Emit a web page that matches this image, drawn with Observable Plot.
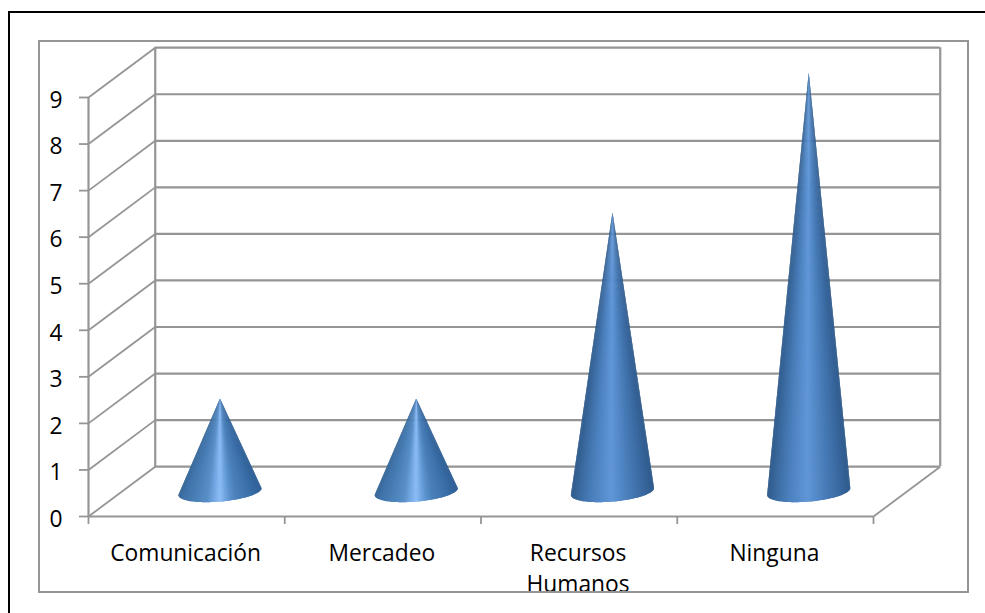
<!DOCTYPE html>
<html>
<head>
<meta charset="utf-8">
<script src="https://cdn.jsdelivr.net/npm/d3@7"></script>
<script src="https://cdn.jsdelivr.net/npm/@observablehq/plot@0.6"></script>
<style>
  html, body { margin: 0; padding: 0; background: #fff; width: 985px; height: 613px; overflow: hidden; }
  /* page rule above and left of the chart */
  #page { position: absolute; left: 8px; top: 11px; width: 977px; height: 602px; border-left: 2px solid #000; border-top: 2px solid #000; box-sizing: border-box; }
  /* chart area border; long category labels are cut off at its lower edge */
  #box { position: absolute; left: 38px; top: 40px; width: 931px; height: 553px; border: 2px solid #959595; box-sizing: border-box; overflow: hidden; background: #fff; }
  #box svg { position: absolute; left: -2px; top: -2px; max-width: none !important; }
</style>
</head>
<body>
<div id="page"></div>
<div id="box"></div>
<script>
const categories = ["Comunicación", "Mercadeo", "Recursos\nHumanos", "Ninguna"];
const values = [2, 2, 6, 9];
const yTicks = [0, 1, 2, 3, 4, 5, 6, 7, 8, 9];
const xTicks = [0, 1, 2, 3, 4];
const gridColor = "#959595";

// Oblique projection: how far the back wall sits from the front plane, in data units.
const depthX = 0.34;
const depthY = 1.07;

// Cone base, in data units.
const baseRadiusX = 0.212;
const baseRadiusY = 0.215;
const baseTilt = 0.075;

// Side-to-side shading of the cones, left edge to right edge.
const shortShade = d3.scaleLinear()
  .domain([0, 0.12, 0.3, 0.38, 0.44, 0.5, 0.56, 0.65, 0.8, 0.95, 1])
  .range(["#2f5f95", "#3a6ea8", "#4a80ba", "#5a92cd", "#72a6e2", "#8cbdf6", "#78ace8", "#5a90c8", "#4a80b8", "#3f72a8", "#376796"]);
const tallShade = d3.scaleLinear()
  .domain([0, 0.12, 0.35, 0.52, 0.75, 0.92, 1])
  .range(["#2f5a8c", "#39689f", "#4d83c0", "#6197d8", "#4a7fbc", "#39689c", "#2f5b8c"]);

// One wedge per slice of the visible base, all meeting at the apex. Each wedge
// reaches over its neighbour so that no gap shows between them.
const slices = 60;
const wedges = values.flatMap((value, c) => {
  const cx = c + 0.5 + depthX / 2;
  const cy = depthY / 2;
  const shade = value > 2 ? tallShade : shortShade;
  const rim = (t) => {
    const a = Math.PI * t;
    return [cx + baseRadiusX * Math.cos(a), cy + baseTilt * Math.cos(a) - baseRadiusY * Math.sin(a)];
  };
  return d3.range(slices).flatMap((i) => {
    const end = Math.min(i + 2, slices);
    const [x1, y1] = rim(i / slices);
    const [xm, ym] = rim((i + 1) / slices);
    const [x2, y2] = rim(end / slices);
    const color = shade(1 - (x1 + xm - 2 * cx + 2 * baseRadiusX) / (4 * baseRadiusX));
    const id = `${c}-${i}`;
    return [
      {id, color, x: cx, y: cy + value},
      {id, color, x: x1, y: y1},
      {id, color, x: xm, y: ym},
      {id, color, x: x2, y: y2}
    ];
  });
});

const chart = Plot.plot({
  width: 931,
  height: 553,
  marginTop: 57, marginRight: 96, marginBottom: 77, marginLeft: 50,
  style: {background: "transparent", fontFamily: "'Open Sans', sans-serif", fontSize: "22.8px", color: "#000"},
  x: {domain: [0, 4], axis: null},
  y: {domain: [0, 9], axis: null},
  color: {type: "identity"},
  marks: [
    // back wall
    Plot.ruleY(yTicks, {x1: depthX, x2: 4 + depthX, y: (d) => d + depthY, stroke: gridColor, strokeWidth: 2.2}),
    Plot.ruleX([depthX, 4 + depthX], {y1: depthY, y2: 9 + depthY, stroke: gridColor, strokeWidth: 2.2}),
    // side wall and floor
    Plot.link(yTicks, {x1: 0, y1: (d) => d, x2: depthX, y2: (d) => d + depthY, stroke: gridColor, strokeWidth: 1.8}),
    Plot.link([4], {x1: (d) => d, y1: 0, x2: (d) => d + depthX, y2: depthY, stroke: gridColor, strokeWidth: 1.8}),
    // front axes
    Plot.ruleY([0], {x1: 0, x2: 4, stroke: gridColor, strokeWidth: 2.2}),
    Plot.ruleX([0], {y1: 0, y2: 9, stroke: gridColor, strokeWidth: 2.2}),
    Plot.axisY(yTicks, {anchor: "left", tickSize: 9, stroke: gridColor, strokeWidth: 1.8, tickFormat: () => "", label: null}),
    Plot.axisY(yTicks, {anchor: "left", tickSize: 0, tickPadding: 26, dy: 3, fill: "#000", stroke: null, label: null, tickFormat: (d) => d}),
    Plot.axisX(xTicks, {anchor: "bottom", tickSize: 8, tickFormat: () => "", stroke: gridColor, strokeWidth: 1.8, label: null}),
    Plot.text(categories, {
      x: (d, i) => i + 0.5,
      y: 0,
      dy: 22,
      dx: -1,
      text: (d) => d,
      lineAnchor: "top",
      lineHeight: 1.36,
      fill: "#000"
    }),
    // cones
    Plot.line(wedges, {x: "x", y: "y", z: "id", fill: "color", stroke: null, curve: "linear-closed"})
  ]
});
document.getElementById("box").appendChild(chart);
</script>
</body>
</html>
